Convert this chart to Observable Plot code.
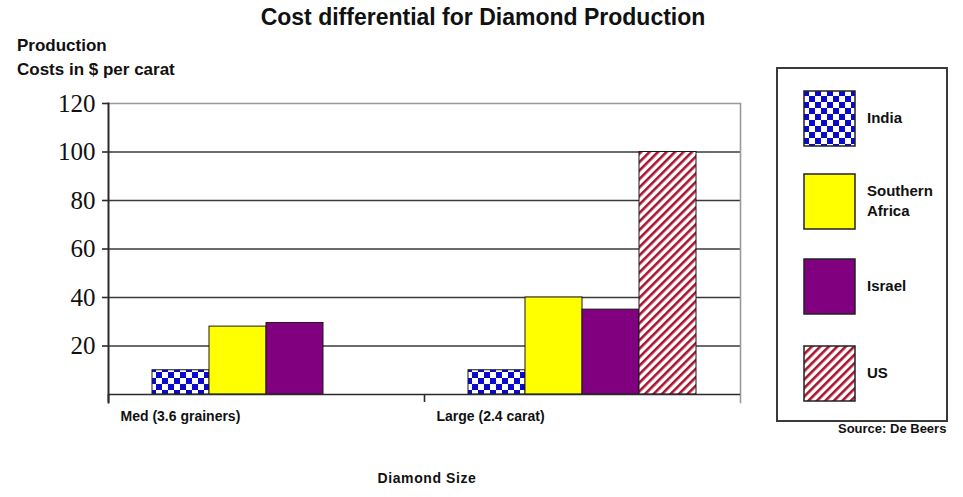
<!DOCTYPE html>
<html><head><meta charset="utf-8">
<script src="https://cdn.jsdelivr.net/npm/d3@7"></script>
<script src="https://cdn.jsdelivr.net/npm/@observablehq/plot@0.6"></script>
<style>
body{margin:0;background:#fff;}
#wrap{position:relative;width:963px;height:497px;overflow:hidden;font-family:"Liberation Sans Narrow","Arial Narrow","Liberation Sans",Arial,sans-serif;font-weight:bold;color:#111;}
.t{position:absolute;white-space:nowrap;line-height:1;}
#legend{position:absolute;left:776px;top:67px;width:168px;height:351px;border:2px solid #3a3a3a;background:#fff;}
.sw{position:absolute;left:25px;}
</style></head><body>
<svg width="0" height="0" style="position:absolute"><defs>
<pattern id="checker" patternUnits="userSpaceOnUse" width="12" height="12">
<rect width="12" height="12" fill="#fff"/><rect width="6" height="6" fill="#0a0acc"/><rect x="6" y="6" width="6" height="6" fill="#0a0acc"/>
</pattern>
<pattern id="hatch" patternUnits="userSpaceOnUse" width="6" height="6" patternTransform="rotate(45)">
<rect width="6" height="6" fill="#fff"/><rect width="2.6" height="6" fill="#a8142e"/>
</pattern>
</defs></svg>
<div id="wrap">
<div id="chart" style="position:absolute;left:0;top:0"></div>
<div class="t" style="left:0;width:966px;text-align:center;top:6px;font-size:23px">Cost differential for Diamond Production</div>
<div class="t" style="left:17px;top:37px;font-size:17px">Production</div>
<div class="t" style="left:17px;top:61px;font-size:17px">Costs in $ per carat</div>
<div class="t" style="left:0;width:854px;text-align:center;top:471px;font-size:14px;letter-spacing:0.6px">Diamond Size</div>
<div class="t" style="left:838px;top:422px;font-size:13px">Source: De Beers</div>
<div id="legend"></div>
</div>
<script>
const groups = ["Med (3.6 grainers)", "Large (2.4 carat)"];
const series = ["India", "Southern Africa", "Israel", "US"];
const medCosts = [10, 28, 29.5, null];
const largeCosts = [10, 40, 35, 100];
const yTicks = [20, 40, 60, 80, 100, 120];
const fills = ["url(#checker)", "#ffff00", "#800080", "url(#hatch)"];

const data = [];
groups.forEach((g, gi) => {
  const vals = gi === 0 ? medCosts : largeCosts;
  series.forEach((s, si) => { if (vals[si] != null) data.push({group: g, series: s, cost: vals[si]}); });
});

const chart = Plot.plot({
  width: 963, height: 497,
  marginLeft: 108, marginRight: 223, marginTop: 103, marginBottom: 103,
  style: {background: "transparent", overflow: "visible"},
  fx: {domain: groups, padding: 0, axis: null},
  x: {domain: series, paddingInner: 0, paddingOuter: 0.77, axis: null},
  y: {domain: [0, 120], axis: null},
  color: {domain: series, range: fills},
  marks: [
    Plot.ruleY(yTicks.slice(0, -1), {stroke: "#3a3a3a", strokeWidth: 1.6}),
    Plot.ruleY([120], {stroke: "#9a9a9a", strokeWidth: 1.6}),
    Plot.frame({anchor: "right", fx: () => groups[1], stroke: "#9a9a9a", strokeWidth: 1.6, insetBottom: -8}),
    Plot.barY(data, {fx: "group", x: "series", y: "cost", fill: "series", stroke: "#1a1a1a", strokeWidth: 1}),
    Plot.ruleY([0], {stroke: "#2a2a2a", strokeWidth: 1.6}),
    Plot.frame({anchor: "left", fx: () => groups[0], stroke: "#2a2a2a", strokeWidth: 2, insetBottom: -8}),
    Plot.axisFx({anchor: "bottom", tickSize: 8, tickFormat: () => "", dx: -158, stroke: "#2a2a2a", strokeWidth: 1.6, label: null}),
    Plot.axisFx({anchor: "bottom", tickSize: 0, tickPadding: 17, textAnchor: "start", dx: -146, fontSize: 14, fontWeight: "bold",
      fontFamily: "Liberation Sans Narrow, Arial Narrow, Liberation Sans, Arial, sans-serif", fill: "#111", label: null}),
    Plot.axisY({ticks: yTicks, tickSize: 6, tickPadding: 7, fontSize: 25, fontFamily: "Liberation Serif, Times New Roman, serif",
      fontWeight: "normal", stroke: "#2a2a2a", strokeWidth: 1.6, fill: "#111", label: null})
  ]
});
document.getElementById("chart").appendChild(chart);

// legend built from the same series and fills
const legend = document.getElementById("legend");
const tops = [21, 104, 189, 276];
series.forEach((s, i) => {
  const sw = document.createElementNS("http://www.w3.org/2000/svg", "svg");
  sw.setAttribute("width", 53); sw.setAttribute("height", 57);
  sw.setAttribute("class", "sw"); sw.style.top = tops[i] + "px";
  const r = document.createElementNS("http://www.w3.org/2000/svg", "rect");
  r.setAttribute("x", 1); r.setAttribute("y", 1); r.setAttribute("width", 51); r.setAttribute("height", 55);
  r.setAttribute("fill", fills[i]); r.setAttribute("stroke", "#222"); r.setAttribute("stroke-width", 1.5);
  sw.appendChild(r); legend.appendChild(sw);
  const lab = document.createElement("div");
  lab.className = "t";
  lab.style.left = "89px"; lab.style.fontSize = "15px"; lab.style.lineHeight = "20px";
  lab.innerHTML = s === "Southern Africa" ? "Southern<br>Africa" : s;
  lab.style.top = (tops[i] + 28 - (s === "Southern Africa" ? 20 : 10)) + "px";
  legend.appendChild(lab);
});
</script>
</body></html>
